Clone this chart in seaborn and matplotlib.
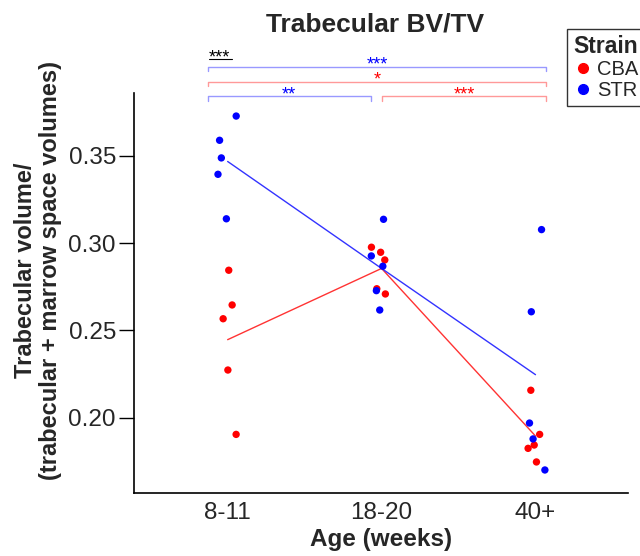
import numpy as np
import pandas as pd
import matplotlib.pyplot as plt
import seaborn as sns
import matplotlib.transforms as mtransforms
from matplotlib.lines import Line2D

# values
ages = ['8-11', '18-20', '40+']
strains = ['CBA', 'STR']
cba_8_11 = [0.2845, 0.2646, 0.2567, 0.2273, 0.1904]
cba_18_20 = [0.2977, 0.2948, 0.2904, 0.2739, 0.2709]
cba_40 = [0.2157, 0.1904, 0.1843, 0.1824, 0.1746]
str_8_11 = [0.3729, 0.3590, 0.3489, 0.3395, 0.3140]
str_18_20 = [0.3137, 0.2927, 0.2868, 0.2728, 0.2617]
str_40 = [0.3078, 0.2607, 0.1969, 0.1878, 0.1700]

# significance brackets: (start category, end category, label, strain)
brackets = [(-0.13, 2.07, '***', 'STR'),
            (-0.13, 2.07, '*', 'CBA'),
            (-0.13, 0.93, '**', 'STR'),
            (1.0, 2.07, '***', 'CBA')]

rows = []
for strain, groups in [('CBA', [cba_8_11, cba_18_20, cba_40]),
                       ('STR', [str_8_11, str_18_20, str_40])]:
    for age, vals in zip(ages, groups):
        for v in vals:
            rows.append({'age': age, 'strain': strain, 'bvtv': v})
df = pd.DataFrame(rows)

sns.set_theme(style='white')
plt.rcParams['font.family'] = ['Liberation Sans', 'DejaVu Sans']

pal = {'CBA': '#ff0000', 'STR': '#0000ff'}
line_pal = {'CBA': '#ff3333', 'STR': '#3333ff'}
light_pal = {'CBA': '#ff9999', 'STR': '#9999ff'}

fig = plt.figure(figsize=(6.4, 5.56), dpi=100)
ax = fig.add_axes([0.209, 0.1133, 0.772, 0.7194])

np.random.seed(3)
sns.stripplot(data=df, x='age', y='bvtv', hue='strain', order=ages, hue_order=strains,
              palette=pal, jitter=0.07, size=5.3, linewidth=0, legend=False, ax=ax)
sns.pointplot(data=df, x='age', y='bvtv', hue='strain', order=ages, hue_order=strains,
              palette=line_pal, markers='', errorbar=None, linewidth=1,
              legend=False, ax=ax)

ax.set_xlim(-0.61, 2.60)
ax.set_ylim(0.1568, 0.3861)
ax.set_yticks([0.20, 0.25, 0.30, 0.35])
ax.set_yticklabels(['0.20', '0.25', '0.30', '0.35'])
ax.tick_params(axis='y', length=10.8, width=1, pad=2, labelsize=17.5, left=True, color='black')
ax.tick_params(axis='x', length=0, pad=6.5, labelsize=17.5)
sns.despine(ax=ax)
for s in ['left', 'bottom']:
    ax.spines[s].set_color('black')
    ax.spines[s].set_linewidth(1.2)

ax.set_xlabel('Age (weeks)', fontsize=17.5, fontweight='bold', labelpad=3)
ax.set_ylabel('Trabecular volume/\n(trabecular + marrow space volumes)',
              fontsize=17, fontweight='bold', linespacing=1.1)
ax.yaxis.set_label_coords(-0.146, 0.556)

fig.text(375 / 640, 1 - 32 / 556, 'Trabecular BV/TV', fontsize=19, fontweight='bold',
         ha='center', va='baseline')

# significance brackets above the panel
trans = mtransforms.blended_transform_factory(ax.transData, ax.transAxes)
levels = [1.065, 1.0285, 0.9915]
lev = [levels[0], levels[1], levels[2], levels[2]]
tick = 0.011
for (x0, x1, lab, strain), y in zip(brackets, lev):
    ax.plot([x0, x0, x1, x1], [y - tick, y, y, y - tick], color=light_pal[strain],
            lw=1, transform=trans, clip_on=False)
    ax.text((x0 + x1) / 2, y - 0.017, lab, color=pal[strain], fontsize=13,
            ha='center', va='bottom', transform=trans, clip_on=False)

ax.text(-0.125, 1.066, '***', color='black', fontsize=13, ha='left', va='bottom',
        transform=trans, clip_on=False)
ax.plot([-0.12, 0.03], [1.084, 1.084], color='black', lw=0.8, transform=trans, clip_on=False)

handles = [Line2D([], [], marker='o', linestyle='', color=pal[s], markersize=7, label=s)
           for s in strains]
leg = fig.legend(handles=handles, title='Strain', loc='upper left',
                 bbox_to_anchor=(567 / 640, 1 - 29 / 556), borderaxespad=0,
                 fontsize=14.5, title_fontproperties={'weight': 'bold', 'size': 16.5},
                 frameon=True, fancybox=False, edgecolor='black',
                 handletextpad=0.2, handlelength=1.0, borderpad=0.3,
                 labelspacing=0.1, alignment='left')
leg.get_frame().set_linewidth(1)

fig.savefig('out.png', dpi=100)
